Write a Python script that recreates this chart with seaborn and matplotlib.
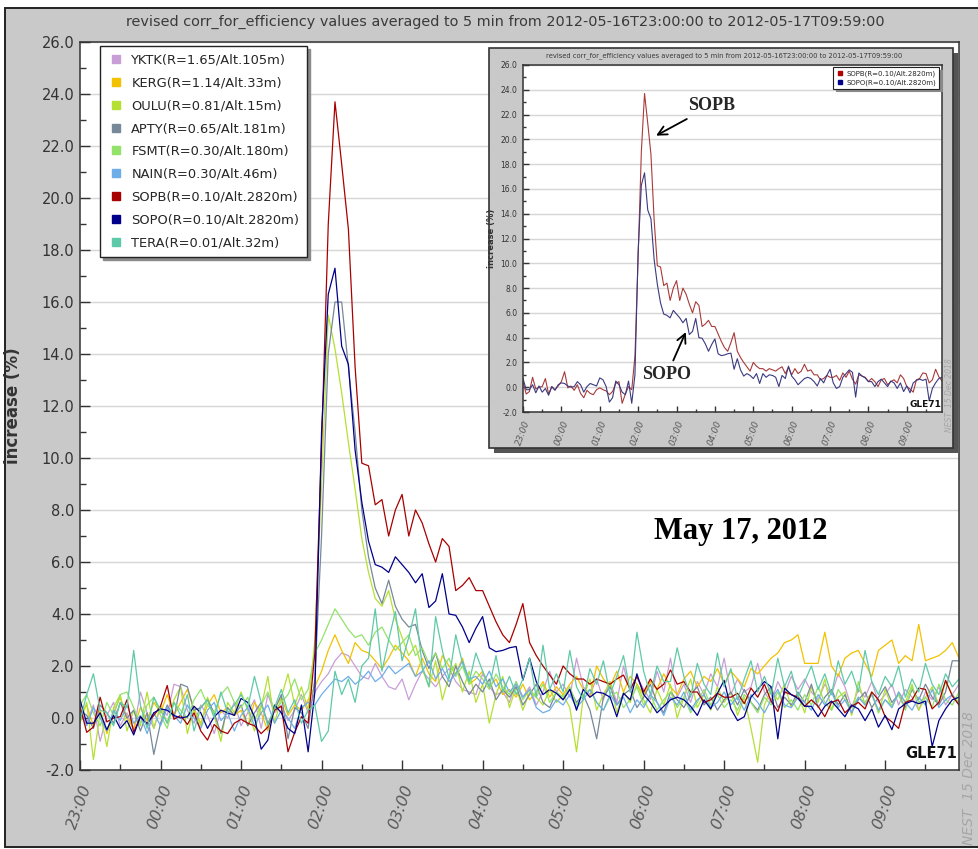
import numpy as np
import pandas as pd
import matplotlib
matplotlib.use("Agg")
import matplotlib.pyplot as plt
import matplotlib.dates as mdates
from matplotlib.ticker import MultipleLocator, FormatStrFormatter
from matplotlib.lines import Line2D
from matplotlib.patches import Rectangle
import seaborn as sns

# ---------------------------------------------------------------- data
start = "2012-05-16 23:00"
n_steps = 132  # 5-minute averages, 23:00 .. 09:55

stations = ["YKTK", "KERG", "OULU", "APTY", "FSMT", "NAIN", "SOPB", "SOPO", "TERA"]
labels = ["YKTK(R=1.65/Alt.105m)", "KERG(R=1.14/Alt.33m)", "OULU(R=0.81/Alt.15m)",
          "APTY(R=0.65/Alt.181m)", "FSMT(R=0.30/Alt.180m)", "NAIN(R=0.30/Alt.46m)",
          "SOPB(R=0.10/Alt.2820m)", "SOPO(R=0.10/Alt.2820m)", "TERA(R=0.01/Alt.32m)"]
colors = ["#c79fd6", "#f2c200", "#b5e033", "#778899", "#93e26a", "#6eaee8",
          "#a80000", "#00008a", "#5ec9a8"]

yktk = [0.3, -0.2, 0.5, -0.9, 0.1, 0.6, -0.3, 0.2, -0.5, 1.0, 0.2, -0.4,
        0.4, 0.1, 1.3, 1.2, 0.3, -0.2, 0.5, 0.1, -0.6, 0.3, 0.0, 0.6,
        -0.3, 0.2, 0.7, -0.4, 0.9, 0.2, 0.5, -0.1, 0.3, 0.9, 0.2, 1.0,
        1.4, 1.7, 2.2, 2.5, 2.4, 2.0, 1.6, 1.5, 2.1, 1.6, 1.2, 1.1,
        1.5, 0.7, 1.3, 1.8, 1.5, 1.2, 1.6, 1.9, 1.4, 1.1, 1.0, 0.9,
        1.7, 1.2, 0.9, 1.0, 0.6, 1.4, 0.8, 1.2, 0.5, 1.0, 1.8, 1.0,
        1.3, 0.8, 2.3, 1.2, 0.9, 1.5, 0.7, 1.4, 0.6, 2.0, 1.0, 1.6,
        1.1, 0.7, 1.8, 1.0, 2.3, 0.8, 1.3, 0.6, 1.4, 0.9, 1.7, 1.2,
        2.3, 0.9, 1.5, 1.0, 1.2, 2.1, 1.0, 0.6, 1.4, 0.9, 1.6, 1.1,
        1.5, 1.0, 0.7, 1.3, 0.9, 1.7, 1.2, 0.4, 1.1, 0.8, 1.4, 0.6,
        0.9, 1.3, 0.5, 1.1, 0.8, 0.3, 1.0, 0.7, 1.2, 0.5, 0.9, 1.3]
kerg = [0.1, 0.5, -0.3, 0.3, -0.6, 0.2, 0.8, 0.0, -0.4, 0.4, -0.1, 0.6,
        0.2, 0.9, 0.1, 0.6, 1.1, 0.3, -0.2, 0.5, 0.9, 0.2, 0.4, 0.1,
        0.3, -0.3, 0.6, 0.2, -0.5, 0.4, 0.8, 0.1, 0.5, 0.3, 0.7, 1.2,
        1.8, 2.6, 3.2, 2.6, 2.1, 2.9, 2.6, 2.5, 2.2, 1.9, 2.3, 2.8,
        2.5, 2.2, 1.6, 2.3, 1.7, 1.4, 2.4, 2.0, 1.7, 2.3, 1.3, 1.5,
        1.8, 1.2, 1.5, 0.9, 1.1, 0.8, 1.3, 0.7, 1.0, 1.4, 0.8, 1.2,
        0.9, 1.3, 1.6, 1.1, 0.8, 2.0, 1.5, 1.2, 1.8, 1.0, 1.6, 1.3,
        0.9, 1.4, 1.1, 1.7, 1.2, 0.9, 1.5, 1.8, 1.2, 1.6, 1.4, 1.9,
        1.3, 1.8, 1.5, 1.2, 1.9, 1.7, 2.0, 2.3, 2.5, 2.9, 3.0, 3.2,
        2.1, 2.1, 2.1, 3.3, 2.0, 1.6, 2.3, 2.5, 2.6, 2.1, 1.6, 2.6,
        2.8, 3.0, 2.1, 2.4, 2.2, 3.6, 2.2, 2.3, 2.4, 2.6, 2.9, 2.3]
oulu = [-0.2, 0.6, -1.6, 0.2, -1.1, 0.4, 0.9, -0.5, 0.3, -0.3, 1.0, -0.4,
        0.5, -0.2, 0.7, 1.2, -0.6, 0.4, -0.3, 0.8, 0.1, -0.9, 0.6, 0.2,
        1.0, 0.3, -0.5, 0.4, 1.6, -0.2, 0.8, 1.7, 0.5, 1.2, 0.3, 3.0,
        9.0, 15.5, 14.2, 12.5, 10.6, 8.8, 6.9, 5.6, 4.6, 4.3, 4.9, 3.8,
        3.1, 2.4, 2.8, 1.9, 1.2, 2.2, 0.7, 1.6, 2.1, 1.0, 1.8, 0.6,
        1.3, -0.2, 0.9, 1.6, 0.4, 1.2, 0.3, 1.0, 0.8, 0.5, 1.1, 0.6,
        0.9, 0.4, -1.3, 0.8, 1.5, 0.3, 0.9, 1.4, 0.2, 1.0, 0.6, 1.3,
        0.7, 0.2, 1.1, 0.5, 1.3, 0.0, 0.8, 1.5, 0.4, 0.9, 0.3, 1.2,
        0.6, 1.0, 0.1, 0.8, -0.4, -1.7, 0.5, 1.1, 0.7, 1.3, 0.4, 0.9,
        0.2, 1.2, 0.6, 1.5, 0.3, 0.8, 1.0, 0.1, 1.4, 0.5, 0.9, 0.2,
        1.1, 0.4, 1.0, 0.6, 1.3, 0.3, 0.8, 1.2, 0.5, 1.4, 0.9, 0.6]
apty = [0.3, 0.1, -0.4, 0.5, 0.2, -0.2, 0.6, 0.0, 0.3, -0.5, 0.2, -1.4,
        -0.2, 0.5, 0.0, 1.3, 1.2, 0.3, 0.4, 0.7, 0.2, -0.6, 0.4, 0.1,
        0.5, -0.3, 0.2, 0.6, -0.2, 0.3, 0.9, -0.8, 0.4, 0.2, -0.4, 1.5,
        7.0, 14.0, 16.0, 16.0, 13.5, 11.0, 8.0, 6.2, 5.0, 4.4, 5.3, 4.3,
        3.8, 3.5, 3.6, 2.6, 1.9, 2.5, 1.6, 1.2, 2.0, 1.4, 0.9, 1.3,
        1.0, 1.5, 0.7, 1.1, 0.8, 1.2, 0.5, 0.9, 1.3, 0.6, 0.4, 1.0,
        0.7, 1.1, 0.6, 0.9, 0.3, -0.8, 0.8, 1.2, 0.5, 0.9, 1.1, 0.4,
        0.8, 1.3, 0.6, 0.2, 1.0, 0.7, 0.4, 0.9, 1.2, 0.5, 0.8, 0.3,
        0.7, 1.0, 0.5, 1.1, 0.6, 0.3, 0.9, 1.2, 0.4, 0.8, 0.5, 1.0,
        0.6, 1.3, 0.4, 0.8, 1.1, 0.5, 0.9, 0.2, 0.7, 1.0, 0.4, 0.8,
        1.2, 0.6, 0.9, 0.4, 1.1, 0.7, 1.3, 0.8, 0.5, 1.0, 2.2, 2.2]
fsmt = [0.5, 0.9, 0.2, -0.3, 0.6, 0.1, 0.9, 1.0, 0.4, -0.2, 0.5, 0.8,
        0.1, -0.4, 0.6, 0.3, 0.0, 0.7, 1.1, 0.5, 0.2, 0.9, 1.2, 0.6,
        0.4, 0.8, -0.1, 0.5, 1.0, 0.3, 0.6, 0.9, 1.5, 0.7, 1.1, 2.5,
        3.0, 3.6, 4.2, 3.8, 3.4, 3.1, 3.2, 2.8, 3.3, 3.5, 3.0, 2.6,
        2.9, 3.2, 2.4, 2.7, 2.1, 2.5, 1.9, 2.3, 1.6, 2.0, 1.3, 1.8,
        1.5, 1.1, 1.7, 1.2, 0.9, 1.4, 0.7, 1.1, 0.8, 1.3, 0.6, 1.0,
        0.8, 1.2, 0.5, 0.9, 1.1, 0.6, 0.3, 0.8, 1.0, 0.4, 0.7, 1.2,
        0.5, 0.9, 0.3, 0.7, 1.0, 0.4, 0.8, 0.2, 0.6, 1.1, 0.5, 0.9,
        0.4, 0.7, 0.3, 0.9, 0.6, 0.2, 0.8, 0.5, 1.0, 0.4, 0.7, 0.3,
        0.9, 0.5, 1.2, 0.6, 0.3, 1.1, 0.7, 0.4, 0.8, 0.6, 1.0, 0.2,
        0.7, 0.5, 0.9, 0.3, 1.2, 0.6, 0.8, 0.4, 1.3, 0.7, 0.5, 1.0]
nain = [0.2, -0.3, 0.4, 0.0, -0.5, 0.3, -0.1, 0.5, -0.2, 0.1, -0.6, 0.2,
        -0.3, 0.4, 0.1, -0.2, 0.5, 0.0, -0.4, 0.3, 0.6, -0.1, 0.2, -0.5,
        0.1, 0.4, -0.3, 0.2, 0.5, -0.2, 0.3, 0.0, -0.4, 0.4, 0.6, 0.5,
        0.9, 1.2, 1.5, 1.4, 1.6, 1.3, 1.5, 1.8, 1.4, 1.6, 2.0, 1.7,
        1.9, 2.1, 1.6, 1.8, 2.2, 1.5, 1.9, 1.4, 1.7, 2.2, 1.5, 1.6,
        1.3, 1.8, 1.2, 1.5, 1.0, 1.3, 0.8, 1.1, 0.4, 0.2, 0.3, 0.7,
        0.5, 0.9, 0.4, 0.7, 1.1, 0.6, 0.3, 0.9, 0.5, 0.8, 0.2, 0.7,
        0.4, 0.9, 0.6, 0.1, 0.8, 0.5, 1.0, 0.3, 0.7, 0.9, 0.4, 0.6,
        1.0, 0.5, 0.8, 0.3, 0.9, 0.6, 0.2, 0.7, 1.1, 0.5, 0.4, 0.8,
        0.6, 0.3, 0.9, 0.5, 1.0, 0.4, 0.7, 0.2, 0.8, 0.5, 0.9, 0.3,
        0.7, 0.4, 1.0, 0.6, 0.3, 0.8, 0.5, 1.1, 0.4, 0.7, 0.9, 0.5]
sopb = [0.45, -0.55, -0.35, 0.8, -0.15, 0.0, 0.05, 0.7, -0.55, 0.05, -0.2, 0.1,
        0.45, 1.25, -0.05, 0.1, -0.25, 0.2, -0.5, -0.85, -0.25, -0.5, -0.6, -0.2,
        -0.05, -0.2, -0.3, -0.6, -0.35, 0.3, 0.45, -1.3, -0.55, 0.05, -0.2, 2.5,
        10.5, 19.0, 23.7, 21.3, 18.8, 13.5, 9.8, 9.7, 8.2, 8.4, 7.0, 8.0,
        8.6, 7.0, 8.0, 7.5, 6.7, 6.0, 6.9, 6.6, 4.9, 5.1, 5.4, 4.9,
        4.9, 4.3, 3.7, 3.2, 2.9, 3.6, 4.4, 2.9, 2.4, 2.0, 1.65, 1.3,
        2.0, 1.7, 1.5, 1.5, 1.3, 1.5, 1.4, 1.3, 1.5, 1.65, 1.1, 1.6,
        1.0, 1.5, 1.1, 1.3, 1.85, 1.3, 1.4, 1.0, 1.0, 0.6, 0.7, 0.95,
        0.8, 0.8, 0.95, 0.55, 1.15, 0.8, 1.3, 0.65, 0.25, 1.0, 0.9, 0.8,
        0.45, 0.7, 0.45, 0.05, 0.6, 0.7, 0.2, 0.45, 0.6, 0.35, 1.0, 0.7,
        0.05, -0.15, -0.4, 0.6, 0.7, 1.15, 1.1, 0.35, 0.6, 1.45, 0.85, 0.5]
sopo = [0.7, -0.2, -0.2, 0.2, -0.45, 0.1, -0.4, -0.1, -0.65, 0.05, -0.25, 0.2,
        0.35, 0.3, 0.1, 0.0, 0.05, 0.45, 0.2, -0.4, 0.05, 0.3, 0.2, 0.1,
        0.75, 0.6, 0.05, -1.2, -0.85, 0.5, 0.2, -0.4, -0.6, 0.5, -1.3, 1.0,
        11.0, 16.3, 17.3, 14.3, 13.6, 10.3, 8.3, 6.8, 5.9, 5.8, 5.6, 6.2,
        5.9, 5.6, 5.2, 5.55, 4.25, 4.5, 5.55, 4.0, 3.95, 3.5, 2.9, 3.45,
        3.9, 2.7, 2.55, 2.6, 2.7, 2.75, 1.45, 2.3, 1.4, 0.9, 1.1, 0.95,
        0.7, 1.1, 0.3, 1.1, 0.8, 1.0, 0.95, 0.8, 0.05, 0.95, 0.7, 1.7,
        0.9, 0.6, 0.2, 0.45, 0.7, 0.8, 0.7, 0.45, 0.1, 0.7, 0.35, 0.95,
        1.45, 0.35, -0.1, 0.05, 0.8, 1.1, 1.4, 1.2, -0.8, 1.15, 0.9, 0.75,
        0.45, 0.45, 0.05, 0.45, 0.65, 0.35, 0.05, 0.5, 0.35, -0.1, 0.35, -0.35,
        0.1, -0.45, 0.35, 0.55, 0.65, 0.55, 0.65, -1.1, -0.1, 0.35, 0.7, 0.8]
tera = [-0.1, 0.9, 1.7, 0.3, 0.2, -0.3, 0.6, 0.4, 2.6, 0.5, -0.4, 0.8,
        0.3, -0.2, 0.6, 0.1, 0.9, -0.5, 0.4, 0.7, 0.0, 1.0, 0.2, 0.5,
        0.9, 0.4, 1.6, 0.6, -0.3, 0.4, 1.1, 0.2, 0.7, -0.2, 0.3, 0.5,
        -0.9, -0.5, 1.8, 0.9, 1.5, 0.6, 2.0, 2.3, 4.2, 1.8, 3.0, 4.1,
        2.2, 3.1, 4.2, 2.0, 1.2, 3.9, 2.6, 1.5, 3.2, 2.1, 1.4, 2.5,
        1.8, 1.2, 2.4, 1.0, 1.6, 0.9, 1.5, 2.3, 0.8, 2.8, 1.1, 1.7,
        1.0, 2.6, 1.2, 0.7, 1.9, 1.3, 2.2, 0.9, 1.6, 2.4, 1.0, 3.3,
        1.8, 0.9, 2.0, 1.4, 1.4, 2.7, 1.6, 0.8, 2.1, 1.3, 0.9, 2.5,
        1.2, 1.9, 0.7, 1.5, 2.2, 1.0, 1.6, 0.9, 2.3, 1.2, 1.8, 0.8,
        1.4, 2.0, 1.1, 1.7, 0.9, 2.2, 1.3, 1.8, 1.0, 2.6, 1.4, 0.9,
        1.6, 1.2, 2.0, 0.8, 1.5, 1.0, 2.1, 1.3, 0.9, 1.7, 1.2, 1.5]

series = [yktk, kerg, oulu, apty, fsmt, nain, sopb, sopo, tera]
times = pd.date_range(start, periods=n_steps, freq="5min")

df = pd.DataFrame({
    "time": np.tile(times, len(stations)),
    "station": np.repeat(stations, n_steps),
    "increase": np.concatenate([np.asarray(s, float) for s in series]),
})
palette = dict(zip(stations, colors))

title = ("revised corr_for_efficiency values averaged to 5 min from "
         "2012-05-16T23:00:00 to 2012-05-17T09:59:00")

# ---------------------------------------------------------------- style
sns.set_theme(style="white")
plt.rcParams["font.family"] = ["DejaVu Sans"]
plt.rcParams["axes.unicode_minus"] = False
COND = ["DejaVu Sans Condensed", "Liberation Sans Narrow", "DejaVu Sans"]
SERIF = ["Liberation Serif", "DejaVu Serif"]

W, H = 979, 849
fig = plt.figure(figsize=(W / 100, H / 100), dpi=100, facecolor="white")


def fx(px):
    return px / W


def fy(py):
    return 1 - py / H


# grey page behind everything
fig.add_artist(Rectangle((fx(5), fy(847)), 1.0, fy(8) - fy(847),
                         transform=fig.transFigure, facecolor="#c9c9c9",
                         edgecolor="#222222", lw=1.4, zorder=-10))

fig.text(fx(505), fy(22), title, ha="center", va="center", fontsize=10.4,
         color="#3a3a3a", family=COND)


def style_axes(ax, lab_size, xlab_size, tick_len, xrot_pad):
    ax.set_facecolor("white")
    for sp in ax.spines.values():
        sp.set_color("#333333")
        sp.set_linewidth(1.1)
    ax.set_ylim(-2, 26)
    ax.set_xlim(times[0], times[-1])
    ax.yaxis.set_major_locator(MultipleLocator(2))
    ax.yaxis.set_minor_locator(MultipleLocator(1))
    ax.yaxis.set_major_formatter(FormatStrFormatter("%.1f"))
    ax.xaxis.set_major_locator(mdates.HourLocator())
    ax.xaxis.set_minor_locator(mdates.MinuteLocator(byminute=[30]))
    ax.xaxis.set_major_formatter(mdates.DateFormatter("%H:%M"))
    ax.yaxis.grid(True, color="#d6d6d6", lw=1.0)
    ax.xaxis.grid(False)
    ax.set_axisbelow(True)
    ax.tick_params(axis="both", which="major", direction="in", length=tick_len,
                   width=1.0, color="#333333", left=True, bottom=True)
    ax.tick_params(axis="both", which="minor", direction="in",
                   length=tick_len * 0.6, width=1.0, color="#333333",
                   left=True, bottom=True)
    ax.tick_params(axis="y", labelsize=lab_size, labelcolor="#333333", pad=4)
    ax.tick_params(axis="x", labelsize=xlab_size, labelcolor="#5a5a5a",
                   pad=xrot_pad)
    for t in ax.get_yticklabels():
        t.set_family(COND)
    for t in ax.get_xticklabels():
        t.set_rotation(70)
        t.set_ha("right")
        t.set_va("top")
        t.set_rotation_mode("anchor")
        t.set_style("italic")
    ax.set_xlabel("")


# ---------------------------------------------------------------- main panel
ax = fig.add_axes([fx(80), fy(770), fx(959) - fx(80), fy(42) - fy(770)])
ax.set_zorder(0)
sns.lineplot(data=df, x="time", y="increase", hue="station", hue_order=stations,
             palette=palette, estimator=None, sort=False, lw=0.9, legend=False,
             ax=ax)
style_axes(ax, 10.5, 11.5, 7, 9)
ax.set_ylabel("increase (%)", fontsize=12, fontweight="bold", color="#333333")
ax.yaxis.set_label_coords((22 - 80) / 879, 0.5)

handles = [Line2D([], [], marker="s", ls="none", color=c, markersize=5.5)
           for c in colors]
leg = ax.legend(handles, labels, loc="upper left",
                bbox_to_anchor=(fx(100), fy(46)), bbox_transform=fig.transFigure,
                borderaxespad=0, borderpad=0.6, handlelength=1.3,
                handletextpad=0.5, labelspacing=0.75, fontsize=9.4,
                fancybox=False, framealpha=1,
                shadow={"color": "#8a8a8a", "alpha": 1.0})
leg.get_frame().set_edgecolor("#222222")
leg.get_frame().set_linewidth(1.0)

ax.text(0.998, 0.012, "GLE71", transform=ax.transAxes, ha="right", va="bottom",
        fontsize=10.5, fontweight="bold", color="#111111", family=COND)

fig.text(fx(741), fy(532), "May 17, 2012", ha="center", va="center",
         fontsize=22, fontweight="bold", family=SERIF, color="black")
fig.text(fx(969), fy(845), "NEST  15 Dec 2018", rotation=90, ha="center",
         va="bottom", fontsize=10, style="italic", color="#a6a6a6")

# ---------------------------------------------------------------- inset panel
fig.add_artist(Rectangle((fx(494), fy(453)), fx(953) - fx(489), fy(48) - fy(448),
                         transform=fig.transFigure, facecolor="#555555",
                         edgecolor="none", zorder=1))
fig.add_artist(Rectangle((fx(489), fy(448)), fx(953) - fx(489), fy(48) - fy(448),
                         transform=fig.transFigure, facecolor="#c9c9c9",
                         edgecolor="#333333", lw=1.2, zorder=1.1))

ins = fig.add_axes([fx(523), fy(412), fx(942) - fx(523), fy(65) - fy(412)])
ins.set_zorder(2)
sub = df[df["station"].isin(["SOPB", "SOPO"])]
sns.lineplot(data=sub, x="time", y="increase", hue="station",
             hue_order=["SOPB", "SOPO"],
             palette={"SOPB": "#a83a3a", "SOPO": "#3a3a80"},
             estimator=None, sort=False, lw=0.8, legend=False, ax=ins)
style_axes(ins, 5.5, 6.5, 4, 5)
ins.set_ylabel("increase (%)", fontsize=6, fontweight="bold", color="#333333")
ins.yaxis.set_label_coords((496 - 523) / 419, 0.5)

ih = [Line2D([], [], marker="s", ls="none", color=c, markersize=3.2)
      for c in ["#b00000", "#00008a"]]
ileg = ins.legend(ih, ["SOPB(R=0.10/Alt.2820m)", "SOPO(R=0.10/Alt.2820m)"],
                  loc="upper right", bbox_to_anchor=(fx(939), fy(67)),
                  bbox_transform=fig.transFigure, borderaxespad=0,
                  fontsize=5.0, borderpad=0.45, handlelength=1.0,
                  handletextpad=0.4, labelspacing=0.35, fancybox=False,
                  framealpha=1, shadow={"color": "#8a8a8a", "alpha": 1.0})
ileg.get_frame().set_edgecolor("#222222")
ileg.get_frame().set_linewidth(0.8)

fig.text(fx(724), fy(56), title, ha="center", va="center", fontsize=4.9,
         color="#3a3a3a", family=COND, zorder=3)
ins.text(0.998, 0.01, "GLE71", transform=ins.transAxes, ha="right",
         va="bottom", fontsize=6.5, fontweight="bold", color="#111111",
         family=COND)
fig.text(fx(950), fy(432), "NEST  15 Dec 2018", rotation=90, ha="center",
         va="bottom", fontsize=5.5, style="italic", color="#a6a6a6", zorder=3)

arrow = dict(arrowstyle="->", color="black", lw=1.3, mutation_scale=16,
             shrinkA=2, shrinkB=0)
t0 = times[0]
step = pd.Timedelta(minutes=5)
ins.annotate("SOPB", xy=(t0 + 41.6 * step, 20.3), xytext=(t0 + 58.8 * step, 22.7),
             ha="center", va="center", fontsize=13, fontweight="bold",
             family=SERIF, arrowprops=arrow)
ins.annotate("SOPO", xy=(t0 + 50.9 * step, 4.45), xytext=(t0 + 45.0 * step, 1.0),
             ha="center", va="center", fontsize=13, fontweight="bold",
             family=SERIF, arrowprops=arrow)

fig.savefig("out.png", dpi=100, facecolor="white")
